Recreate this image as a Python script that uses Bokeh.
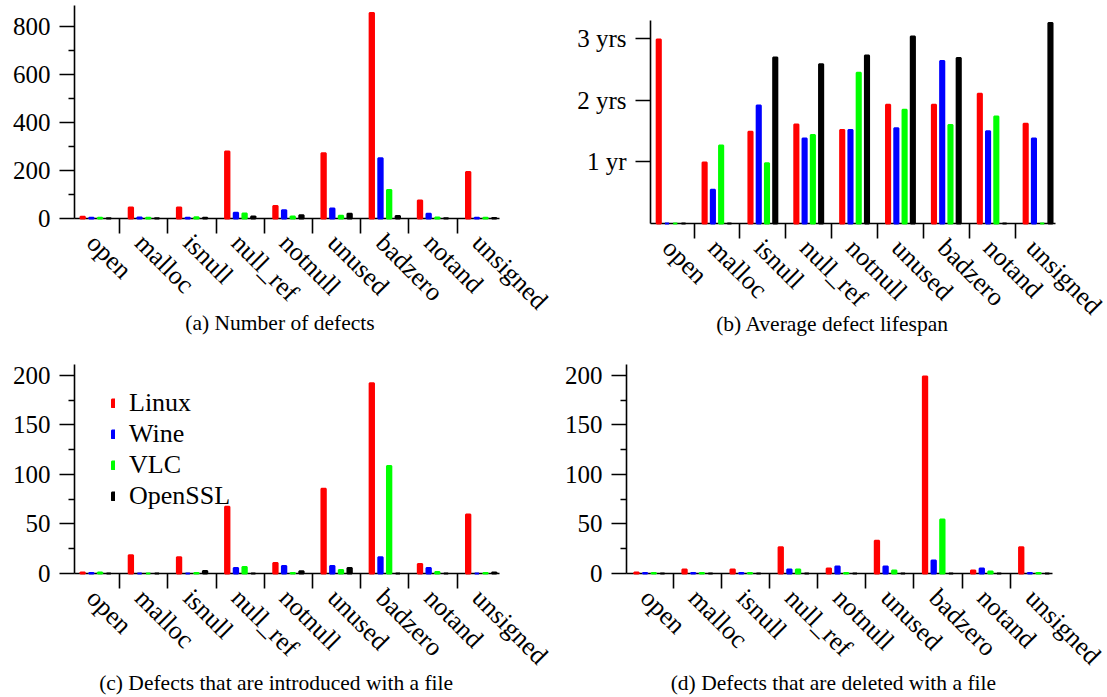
import math
from bokeh.plotting import figure
from bokeh.models import FixedTicker, Range1d, LinearAxis, Legend, LegendItem
from bokeh.layouts import column, row
from bokeh.embed import file_html
from bokeh.resources import INLINE

# ---------------- data ----------------
categories = ["open", "malloc", "isnull", "null_ref", "notnull",
              "unused", "badzero", "notand", "unsigned"]
series_names = ["Linux", "Wine", "VLC", "OpenSSL"]

# (a) Number of defects
num_linux   = [7, 46, 46, 279, 52, 271, 855, 75, 193]
num_wine    = [3, 4, 3, 24, 34, 42, 251, 20, 3]
num_vlc     = [3, 3, 5, 21, 8, 11, 119, 4, 3]
num_openssl = [1, 1, 3, 8, 14, 20, 10, 1, 2]

# (b) Average defect lifespan (years)
life_linux   = [2.99, 0.99, 1.49, 1.61, 1.52, 1.93, 1.93, 2.11, 1.62]
life_wine    = [0.0, 0.55, 1.92, 1.38, 1.52, 1.55, 2.64, 1.50, 1.38]
life_vlc     = [0.0, 1.27, 0.98, 1.44, 2.45, 1.85, 1.60, 1.74, 0.0]
life_openssl = [0.0, 0.0, 2.70, 2.59, 2.73, 3.04, 2.69, 0.0, 3.26]

# (c) Defects introduced with a file
intro_linux   = [1, 18.5, 16.5, 67.5, 10.5, 85.5, 192, 9.5, 59.5]
intro_wine    = [0.5, 0, 0, 5.5, 7.5, 7.5, 16.5, 5.5, 0]
intro_vlc     = [1, 0, 0.5, 6.5, 0.5, 3.5, 108.5, 1.5, 0.5]
intro_openssl = [0, 0, 2.5, 0, 2.2, 5.5, 0, 0, 1]

# (d) Defects deleted with a file
del_linux   = [1, 4, 4, 26.5, 5, 33, 199, 3, 26.5]
del_wine    = [0.5, 0.5, 0.5, 4, 7, 7, 13, 5, 0.5]
del_vlc     = [0.5, 0.5, 0.5, 4, 0.5, 3, 54.5, 2, 0.5]
del_openssl = [0, 0, 0, 0, 0, 0, 0, 0, 0]

y_ticks_a = [0, 200, 400, 600, 800]
y_minor_a = [100, 300, 500, 700]
y_ticks_b = [1, 2, 3]
y_labels_b = ["1 yr", "2 yrs", "3 yrs"]
y_ticks_cd = [0, 50, 100, 150, 200]
y_minor_cd = [25, 75, 125, 175]

captions = ["(a)  Number of defects",
            "(b)  Average defect lifespan",
            "(c)  Defects that are introduced with a file",
            "(d)  Defects that are deleted with a file"]

# ---------------- style ----------------
COLORS = ["#ff0000", "#0000ff", "#00ff00", "#000000"]
FONT = "Liberation Serif"
BAR_STEP = 0.18
BAR_W = 0.09
LABEL_SHIFT = -0.09


def make_panel(series, width, height, xr, y_end, bl, br, bt, bb,
               yt, ymin, ylabels, caption, cap_x, cap_standoff, legend=False):
    p = figure(width=width, height=height, output_backend="svg", title=None,
               toolbar_location=None, x_range=Range1d(*xr),
               y_range=Range1d(0, y_end),
               min_border_left=bl, min_border_right=br,
               min_border_top=bt, min_border_bottom=bb)
    p.outline_line_color = None
    p.xgrid.visible = False
    p.ygrid.visible = False
    p.background_fill_color = None
    p.border_fill_color = "white"

    renderers = []
    n = len(series)
    for k, vals in enumerate(series):
        xs = [i + (k - (n - 1) / 2) * BAR_STEP for i in range(len(categories))]
        r = p.vbar(x=xs, top=vals, width=BAR_W, bottom=0,
                   fill_color=COLORS[k], line_color=COLORS[k], line_width=2)
        r.level = "annotation"
        renderers.append(r)

    # x axis: group separators as minor ticks, category labels as major labels
    label_pos = [i + LABEL_SHIFT for i in range(len(categories))]
    xa = p.xaxis[0]
    xa.ticker = FixedTicker(ticks=label_pos,
                            minor_ticks=[i + 0.5 for i in range(len(categories) - 1)])
    xa.major_label_overrides = {pos: c for pos, c in zip(label_pos, categories)}
    xa.major_tick_out = 0
    xa.major_tick_in = 0
    xa.minor_tick_out = 15
    xa.minor_tick_in = 0
    xa.major_label_orientation = -math.pi / 4
    xa.major_label_standoff = 5
    xa.major_label_text_font_size = "26px"

    ya = p.yaxis[0]
    ya.ticker = FixedTicker(ticks=yt, minor_ticks=ymin)
    if ylabels is not None:
        ya.major_label_overrides = {t: l for t, l in zip(yt, ylabels)}
    ya.major_tick_out = 15
    ya.major_tick_in = 0
    ya.minor_tick_out = 6
    ya.minor_tick_in = 0
    ya.major_label_standoff = 9
    ya.major_label_text_font_size = "25px"

    for ax in (xa, ya):
        ax.axis_line_width = 1.6
        ax.axis_line_color = "black"
        ax.major_tick_line_width = 1.6
        ax.minor_tick_line_width = 1.6
        ax.major_tick_line_color = "black"
        ax.minor_tick_line_color = "black"
        ax.major_label_text_font = FONT
        ax.major_label_text_color = "black"

    # caption: an extra, line-less axis below whose single label is the caption
    cap_axis = LinearAxis(ticker=FixedTicker(ticks=[cap_x], minor_ticks=[]),
                          major_label_overrides={cap_x: caption},
                          axis_line_color=None, major_tick_line_color=None,
                          minor_tick_line_color=None, major_tick_out=0,
                          major_tick_in=0, minor_tick_out=0, minor_tick_in=0,
                          major_label_standoff=cap_standoff,
                          major_label_text_font=FONT,
                          major_label_text_font_size="21.5px",
                          major_label_text_color="black")
    p.add_layout(cap_axis, "below")

    if legend:
        items = [LegendItem(label=nm, renderers=[r])
                 for nm, r in zip(series_names, renderers)]
        lg = Legend(items=items, location=(37, 62), padding=10, margin=0,
                    spacing=0, glyph_width=4, glyph_height=10,
                    label_height=31, label_standoff=14,
                    label_text_font=FONT, label_text_font_size="26px",
                    label_text_color="black",
                    border_line_color=None, background_fill_color=None)
        p.add_layout(lg, "center")
    return p


pa = make_panel([num_linux, num_wine, num_vlc, num_openssl], 560, 358,
                (-0.44, 8.38), 886, 74, 61, 5, 140,
                y_ticks_a, y_minor_a, None, captions[0], 3.88, -18)
pb = make_panel([life_linux, life_wine, life_vlc, life_openssl], 547, 358,
                (-0.45, 8.38), 3.30, 90, 52, 20, 135,
                y_ticks_b, [], y_labels_b, captions[1], 3.58, -22)
pc = make_panel([intro_linux, intro_wine, intro_vlc, intro_openssl], 560, 339,
                (-0.44, 8.38), 211, 74, 61, 6, 120,
                y_ticks_cd, y_minor_cd, None, captions[2], 3.80, -13, legend=True)
pd = make_panel([del_linux, del_wine, del_vlc, del_openssl], 547, 339,
                (-0.477, 8.38), 211, 66, 55, 6, 120,
                y_ticks_cd, y_minor_cd, None, captions[3], 3.88, -13)

layout = column(row(column(pa), column(pb)), row(column(pc), column(pd)))
open("out.html", "w").write(file_html(layout, INLINE))
